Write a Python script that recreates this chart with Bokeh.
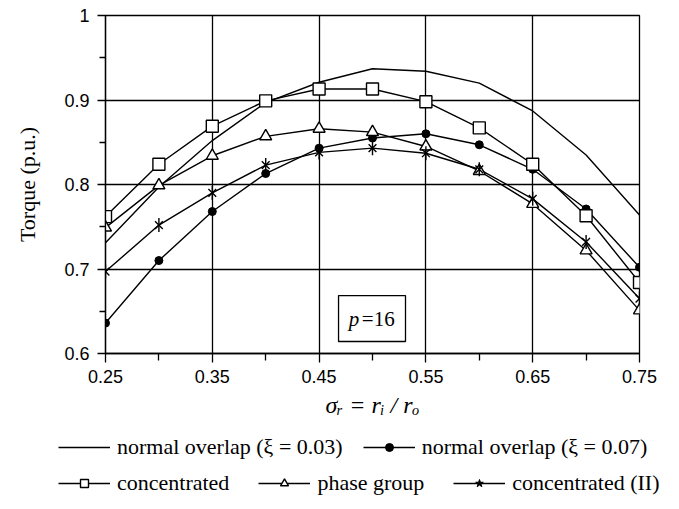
import math
from bokeh.plotting import figure
from bokeh.models import (ColumnDataSource, Legend, LegendItem, FixedTicker,
                          CustomJSTickFormatter, BoxAnnotation, Label, Range1d)
from bokeh.embed import file_html
from bokeh.resources import INLINE

# ---- data ----
sigma = [0.25, 0.30, 0.35, 0.40, 0.45, 0.50, 0.55, 0.60, 0.65, 0.70, 0.75]
normal_003 = [0.731, 0.797, 0.852, 0.897, 0.921, 0.937, 0.934, 0.920, 0.887, 0.835, 0.764]
normal_007 = [0.636, 0.710, 0.768, 0.813, 0.843, 0.855, 0.860, 0.847, 0.818, 0.771, 0.702]
concentrated = [0.762, 0.824, 0.869, 0.899, 0.913, 0.913, 0.898, 0.867, 0.824, 0.763, 0.684]
phase_group = [0.749, 0.799, 0.834, 0.857, 0.866, 0.862, 0.845, 0.816, 0.777, 0.722, 0.651]
concentrated_II = [0.697, 0.752, 0.790, 0.823, 0.838, 0.843, 0.837, 0.818, 0.783, 0.732, 0.665]

x_major = [0.25, 0.35, 0.45, 0.55, 0.65, 0.75]
x_minor = [0.30, 0.40, 0.50, 0.60, 0.70]
y_major = [0.6, 0.7, 0.8, 0.9, 1.0]
y_minor = [0.65, 0.75, 0.85, 0.95]

labels = ["normal overlap (\u03be = 0.03)", "normal overlap (\u03be = 0.07)",
          "concentrated", "phase group", "concentrated (II)"]

src = ColumnDataSource(dict(x=sigma, a=normal_003, b=normal_007, c=concentrated,
                            d=phase_group, e=concentrated_II))

LW = 1.4
SQ = dict(marker="square", size=12, fill_color="white", line_color="black", line_width=1.4)
TR = dict(marker="triangle", size=12, fill_color="white", line_color="black", line_width=1.4)
CI = dict(marker="circle", size=8, fill_color="black", line_color="black")

# ---------------- main chart ----------------
p = figure(frame_width=534, frame_height=338, output_backend="svg", toolbar_location=None,
           x_range=Range1d(0.25, 0.75), y_range=Range1d(0.6, 1.0),
           min_border_left=105, min_border_top=15, min_border_right=40,
           min_border_bottom=74)
p.background_fill_color = "white"
p.outline_line_color = "black"
p.outline_line_width = 1.3

for col in ["a", "b", "c", "d", "e"]:
    p.line("x", col, source=src, line_color="black", line_width=LW)

p.scatter("x", "b", source=src, **CI)
p.scatter("x", "c", source=src, **SQ)
p.scatter("x", "d", source=src, **TR)
p.scatter("x", "e", source=src, marker="x", size=11, line_color="black", line_width=1.4)
p.scatter("x", "e", source=src, marker="dash", size=14, angle=math.pi / 2,
          line_color="black", line_width=1.4)

p.xaxis.ticker = FixedTicker(ticks=x_major, minor_ticks=x_minor)
p.yaxis.ticker = FixedTicker(ticks=y_major, minor_ticks=y_minor)
p.yaxis.formatter = CustomJSTickFormatter(
    code="return Math.abs(tick - 1) < 1e-9 ? '1' : tick.toFixed(1);")
p.xaxis.formatter = CustomJSTickFormatter(code="return tick.toFixed(2);")
for ax in (p.xaxis, p.yaxis):
    ax.axis_line_color = "black"
    ax.axis_line_width = 1.3
    ax.major_tick_line_color = "black"
    ax.minor_tick_line_color = "black"
    ax.major_tick_line_width = 1.3
    ax.minor_tick_line_width = 1.3
    ax.major_tick_in = 0
    ax.minor_tick_in = 0
    ax.major_label_text_font = "Liberation Sans"
    ax.major_label_text_font_size = "18px"
    ax.major_label_text_color = "black"
    ax.axis_label_text_color = "black"
p.xaxis.major_tick_out = 9
p.xaxis.minor_tick_out = 7
p.yaxis.major_tick_out = 8
p.yaxis.minor_tick_out = 6
p.xaxis.major_label_standoff = 7
p.yaxis.major_label_standoff = 8

p.xaxis.axis_label = "\u03c3\u1d63 = r\u1d62 / r\u2092"
p.xaxis.axis_label_text_font = "Liberation Serif"
p.xaxis.axis_label_text_font_style = "italic"
p.xaxis.axis_label_text_font_size = "24px"
p.xaxis.axis_label_standoff = 6

p.yaxis.axis_label = "Torque (p.u.)"
p.yaxis.axis_label_text_font = "Liberation Serif"
p.yaxis.axis_label_text_font_style = "normal"
p.yaxis.axis_label_text_font_size = "22px"
p.yaxis.axis_label_standoff = 21

p.xgrid.ticker = FixedTicker(ticks=x_major)
p.ygrid.ticker = FixedTicker(ticks=y_major)
for g in (p.xgrid, p.ygrid):
    g.grid_line_color = "black"
    g.grid_line_width = 1.3

# p=16 box
p.add_layout(BoxAnnotation(left=0.4682, right=0.5309, bottom=0.6142, top=0.6686,
                           fill_color="white", fill_alpha=1.0,
                           line_color="black", line_width=1.3, line_alpha=1.0))
p.add_layout(Label(x=0.4827, y=0.6414, text="p", text_font="Liberation Serif",
                   text_font_style="italic", text_font_size="21px",
                   text_align="center", text_baseline="middle", text_color="black"))
p.add_layout(Label(x=0.4900, y=0.6414, text="=16", text_font="Liberation Serif",
                   text_font_size="21px", text_align="left", text_baseline="middle",
                   text_color="black"))

# ---------------- legend strip (separate root, full width) ----------------
q = figure(width=679, height=82, output_backend="svg", toolbar_location=None,
           x_range=Range1d(0, 1), y_range=Range1d(0, 1),
           min_border=0, x_axis_type=None, y_axis_type=None)
q.outline_line_color = None
q.xgrid.visible = False
q.ygrid.visible = False
q.background_fill_color = "white"

nan_src = ColumnDataSource(dict(x=[float("nan")], y=[float("nan")]))
ra = q.line("x", "y", source=nan_src, line_color="black", line_width=LW)
rb = q.line("x", "y", source=nan_src, line_color="black", line_width=LW)
rbm = q.scatter("x", "y", source=nan_src, **CI)
rc = q.line("x", "y", source=nan_src, line_color="black", line_width=LW)
rcm = q.scatter("x", "y", source=nan_src, **SQ)
rd = q.line("x", "y", source=nan_src, line_color="black", line_width=LW)
rdm = q.scatter("x", "y", source=nan_src, **TR)
re_ = q.line("x", "y", source=nan_src, line_color="black", line_width=LW)
rem = q.scatter("x", "y", source=nan_src, marker="star", size=10,
                fill_color="black", line_color="black")

def make_legend(items, spacing, loc):
    return Legend(items=items, orientation="horizontal", location=loc,
                  glyph_width=52, glyph_height=20, label_height=20, label_standoff=7,
                  spacing=spacing, padding=8, margin=0,
                  label_text_font="Liberation Serif", label_text_font_size="22px",
                  label_text_color="black",
                  border_line_alpha=0, background_fill_alpha=0)

leg1 = make_legend([LegendItem(label=labels[0], renderers=[ra]),
                    LegendItem(label=labels[1], renderers=[rb, rbm])], 20, (50, 41))
leg2 = make_legend([LegendItem(label=labels[2], renderers=[rc, rcm]),
                    LegendItem(label=labels[3], renderers=[rd, rdm]),
                    LegendItem(label=labels[4], renderers=[re_, rem])], 29, (50, 5))
q.add_layout(leg1, "center")
q.add_layout(leg2, "center")

open("out.html", "w").write(file_html([p, q], INLINE))
